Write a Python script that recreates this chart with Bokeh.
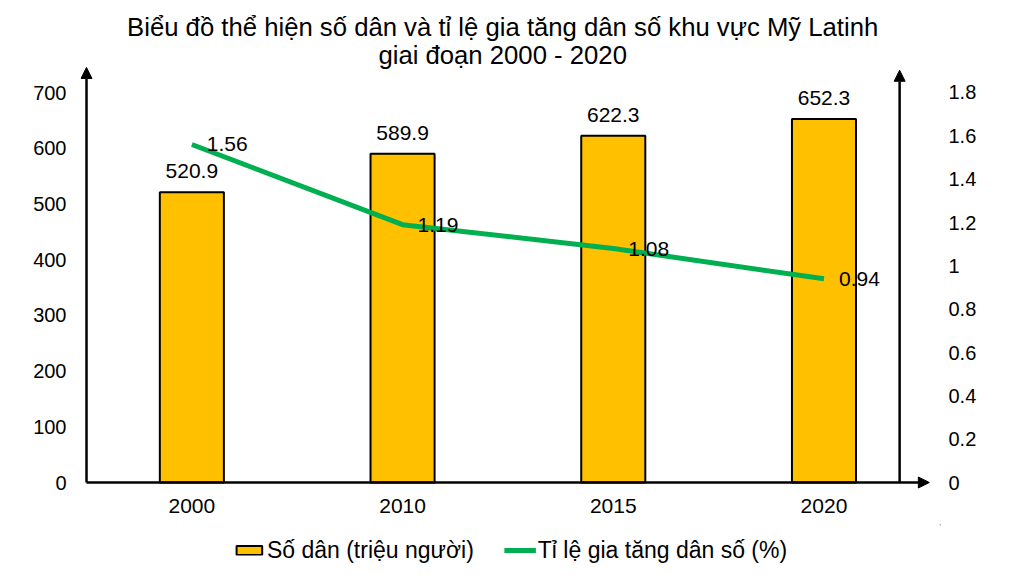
from bokeh.plotting import figure
from bokeh.models import (Range1d, LinearAxis, FixedTicker, Arrow, NormalHead, Label,
                          Legend, LegendItem, ColumnDataSource, LabelSet)
from bokeh.layouts import column
from bokeh.core.properties import value
from bokeh.embed import file_html
from bokeh.resources import INLINE

# ---- data ----
years = ["2000", "2010", "2015", "2020"]
population = [520.9, 589.9, 622.3, 652.3]          # triệu người
growth = [1.56, 1.19, 1.08, 0.94]                  # %
left_ticks = [0, 100, 200, 300, 400, 500, 600, 700]
right_ticks = [0, 0.2, 0.4, 0.6, 0.8, 1.0, 1.2, 1.4, 1.6, 1.8]
right_tick_labels = ["0", "0.2", "0.4", "0.6", "0.8", "1", "1.2", "1.4", "1.6", "1.8"]
title_lines = ["Biểu đồ thể hiện số dân và tỉ lệ gia tăng dân số khu vực Mỹ Latinh",
               "giai đoạn 2000 - 2020"]
series_names = ["Số dân (triệu người)", "Tỉ lệ gia tăng dân số (%)"]

FONT = "Liberation Sans"
BAR_COLOR = "#FFC000"
LINE_COLOR = "#00B050"

xs = list(range(len(years)))
src = ColumnDataSource(dict(
    x=xs, pop=population, gr=growth,
    pop_lbl=[f"{v:.1f}" for v in population],
    gr_lbl=[f"{v:g}" for v in growth],
))

p = figure(width=1021, height=524, output_backend="svg", toolbar_location=None,
           x_range=Range1d(-0.5285, 3.553), y_range=Range1d(-14.36, 865.2),
           min_border_left=80, min_border_right=81, min_border_top=0, min_border_bottom=34)
p.extra_y_ranges = {"r": Range1d(-0.0369, 2.2246)}
p.outline_line_color = None
p.grid.visible = False
p.background_fill_color = "white"
p.border_fill_color = "white"

# axes
p.xaxis.ticker = FixedTicker(ticks=xs)
p.xaxis.major_label_overrides = {i: y for i, y in enumerate(years)}
p.yaxis.ticker = FixedTicker(ticks=left_ticks)
raxis = LinearAxis(y_range_name="r", ticker=FixedTicker(ticks=right_ticks),
                   major_label_overrides={t: l for t, l in zip(right_ticks, right_tick_labels)})
p.add_layout(raxis, "right")
for ax in p.xaxis + p.yaxis:
    ax.axis_line_color = None
    ax.major_tick_line_color = None
    ax.minor_tick_line_color = None
    ax.major_tick_out = 0
    ax.major_tick_in = 0
    ax.minor_tick_out = 0
    ax.minor_tick_in = 0
    ax.major_label_text_font = FONT
    ax.major_label_text_font_size = "20px"
    ax.major_label_text_color = "#000000"
p.yaxis[0].major_label_standoff = 14
raxis.major_label_standoff = 8
p.xaxis.major_label_standoff = 8
p.xaxis.major_label_text_font_size = "21px"

# bars
bar_style = dict(fill_color=BAR_COLOR, line_color="black", line_width=2)
line_style = dict(line_color=LINE_COLOR, line_width=5)
bars = p.vbar(x="x", top="pop", width=0.304, source=src, **bar_style)
# line
line = p.line(x="x", y="gr", source=src, y_range_name="r", **line_style)

# axis arrows
def head():
    return NormalHead(size=11, fill_color="black", line_color="black", line_width=1)

p.add_layout(Arrow(end=head(), x_start=-0.5, y_start=0, x_end=-0.5, y_end=745,
                   line_width=2.5, line_color="black"))
p.add_layout(Arrow(end=head(), x_start=-0.5, y_start=0, x_end=3.5, y_end=0,
                   line_width=2.5, line_color="black"))
p.add_layout(Arrow(end=head(), x_start=3.359, y_start=0, x_end=3.359, y_end=740,
                   line_width=2.5, line_color="black"))

# data labels
p.add_layout(LabelSet(x="x", y="pop", text="pop_lbl", source=src, text_align="center",
                      text_baseline="bottom", y_offset=14, text_font=value(FONT),
                      text_font_size=value("21px"), text_color="#000000"))
p.add_layout(LabelSet(x="x", y="gr", text="gr_lbl", source=src, y_range_name="r",
                      text_align="left", text_baseline="middle", x_offset=15,
                      text_font=value(FONT), text_font_size=value("21px"), text_color="#000000"))

# title
for txt, yv in zip(title_lines, [818.5, 766.5]):
    p.add_layout(Label(x=1.475, y=yv, text=txt, text_align="center", text_baseline="middle",
                       text_font=FONT, text_font_size="25.7px", text_color="#000000"))

# legend (own strip below the chart)
lg = figure(width=1021, height=52, output_backend="svg", toolbar_location=None,
            x_axis_type=None, y_axis_type=None, min_border=0,
            x_range=Range1d(0, 1), y_range=Range1d(0, 1))
lg.outline_line_color = None
lg.grid.visible = False
lb = lg.vbar(x=[5], top=[5], bottom=[4], width=0.1, **bar_style)
ll = lg.line(x=[5, 6], y=[5, 5], **line_style)
legend = Legend(items=[LegendItem(label=series_names[0], renderers=[lb]),
                       LegendItem(label=series_names[1], renderers=[ll])],
                orientation="horizontal", location="center",
                glyph_width=32, glyph_height=11, label_standoff=2, spacing=30,
                padding=0, margin=0, border_line_color=None, background_fill_alpha=0,
                label_text_font=FONT, label_text_font_size="23px", label_text_color="#000000")
lg.add_layout(legend, "center")

layout = column(p, lg, spacing=0)
open("out.html", "w").write(file_html(layout, INLINE))
